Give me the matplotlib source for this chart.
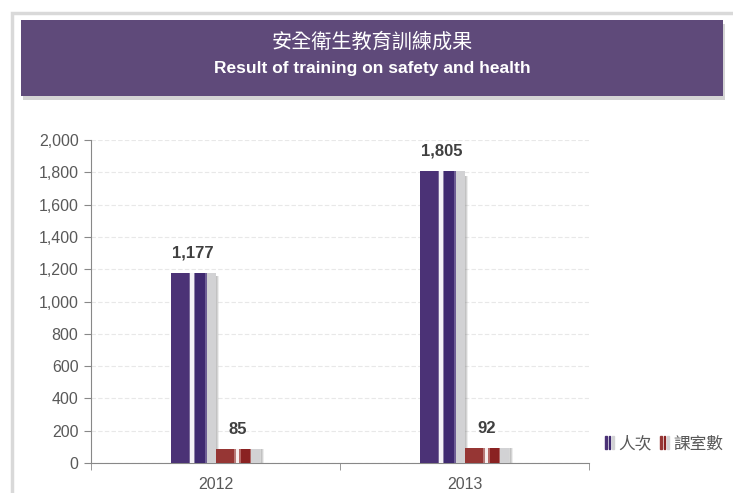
import matplotlib.pyplot as plt
from matplotlib.patches import Rectangle, Patch
from matplotlib.legend_handler import HandlerTuple
from matplotlib.ticker import FuncFormatter

years = ["2012", "2013"]
people = [1177, 1805]
classes = [85, 92]
series_names = ["人次", "課室數"]
yticks = [0, 200, 400, 600, 800, 1000, 1200, 1400, 1600, 1800, 2000]

plt.rcParams["font.family"] = ["Liberation Sans", "Noto Sans CJK TC", "DejaVu Sans"]

W, H = 733, 493
fig = plt.figure(figsize=(W / 100, H / 100), dpi=100)

# outer light frame and title banner
fig.patches.append(Rectangle((12 / W, -0.1), 1, 1.1 - 13 / H, transform=fig.transFigure,
                             facecolor="none", edgecolor="#d9d9d9", lw=2.5))
fig.patches.append(Rectangle((23 / W, 1 - 100 / H), 702 / W, 76 / H, transform=fig.transFigure,
                             facecolor="#b8b8b8", edgecolor="none", alpha=0.6))
fig.patches.append(Rectangle((21 / W, 1 - 96 / H), 702 / W, 76 / H, transform=fig.transFigure,
                             facecolor="#5f4a7a", edgecolor="none"))
fig.text(372 / W, 1 - 42 / H, "安全衛生教育訓練成果", color="white", fontsize=14.5,
         family=["Noto Sans CJK TC", "DejaVu Sans"], ha="center", va="center")
fig.text(372 / W, 1 - 68 / H, "Result of training on safety and health", color="white",
         fontsize=12.5, fontweight="bold", ha="center", va="center")

ax = fig.add_axes([91 / W, 30 / H, 498 / W, 323 / H])
x = list(range(len(years)))
w = 0.18

# stripe layout as fractions of the bar width: (start, end, colour)
purple_stripes = [(0.0, 1.0, "#4b3276"), (0.40, 0.44, "#7a6a9a"), (0.44, 0.51, "#f4f2f7"),
                  (0.51, 0.55, "#8c7fa8"), (0.55, 0.76, "#3f2970"), (0.76, 0.80, "#6f5f95"),
                  (0.80, 1.0, "#d2d2d4")]
red_stripes = [(0.0, 1.0, "#963634"), (0.41, 0.45, "#b87a78"), (0.45, 0.52, "#f6eeee"),
               (0.52, 0.56, "#b46664"), (0.56, 0.76, "#8a2222"), (0.76, 0.80, "#b06a68"),
               (0.80, 1.0, "#d2d2d4")]


def striped_bars(offset, values, stripes):
    lefts = [xi + offset - w / 2 for xi in x]
    # soft shadow on the right
    for k, a in enumerate([0.35, 0.25, 0.15]):
        ax.bar([l + w + 0.004 * k for l in lefts], [v * 0.985 for v in values], width=0.006,
               align="edge", color="#8a8a8a", alpha=a, zorder=2)
    for s, e, c in stripes:
        ax.bar([l + s * w for l in lefts], values, width=(e - s) * w, align="edge",
               color=c, linewidth=0, zorder=3)
    for xi, v in zip(x, values):
        ax.annotate(f"{v:,}", (xi + offset, v), xytext=(0, 9), textcoords="offset points",
                    ha="center", va="bottom", fontsize=12, fontweight="bold", color="#404040")


striped_bars(-w / 2, people, purple_stripes)
striped_bars(w / 2, classes, red_stripes)

ax.set_xlim(-0.5, 1.5)
ax.set_ylim(0, 2000)
ax.set_yticks(yticks)
ax.yaxis.set_major_formatter(FuncFormatter(lambda v, p: f"{int(v):,}"))
ax.set_xticks(x)
ax.set_xticklabels(years)
ax.set_xticks([-0.5, 0.5, 1.5], minor=True)
ax.tick_params(axis="x", which="major", length=0, pad=10, labelsize=11.5, labelcolor="#595959")
ax.tick_params(axis="x", which="minor", length=5, color="#888888")
ax.tick_params(axis="y", length=5, color="#888888", labelsize=11.5, labelcolor="#595959", pad=4)
ax.grid(axis="y", color="#e8e8e8", linewidth=0.8, linestyle=(0, (4, 2)), zorder=0)
for side in ["top", "right"]:
    ax.spines[side].set_visible(False)
for side in ["left", "bottom"]:
    ax.spines[side].set_color("#888888")

handles = [
    (Patch(color="#4b3276"), Patch(color="#3f2970"), Patch(color="#d2d2d4")),
    (Patch(color="#963634"), Patch(color="#8a2222"), Patch(color="#d2d2d4")),
]
fig.legend(handles, series_names, handler_map={tuple: HandlerTuple(ndivide=None, pad=0.1)},
           loc="center left", bbox_to_anchor=(597 / W, 1 - 444 / H), ncol=2, frameon=False,
           borderpad=0, handlelength=0.5, handleheight=0.8, handletextpad=0.3,
           columnspacing=0.5, prop={"family": ["Noto Sans CJK TC", "DejaVu Sans"], "size": 12},
           labelcolor="#595959")

fig.savefig("out.png", dpi=100)
